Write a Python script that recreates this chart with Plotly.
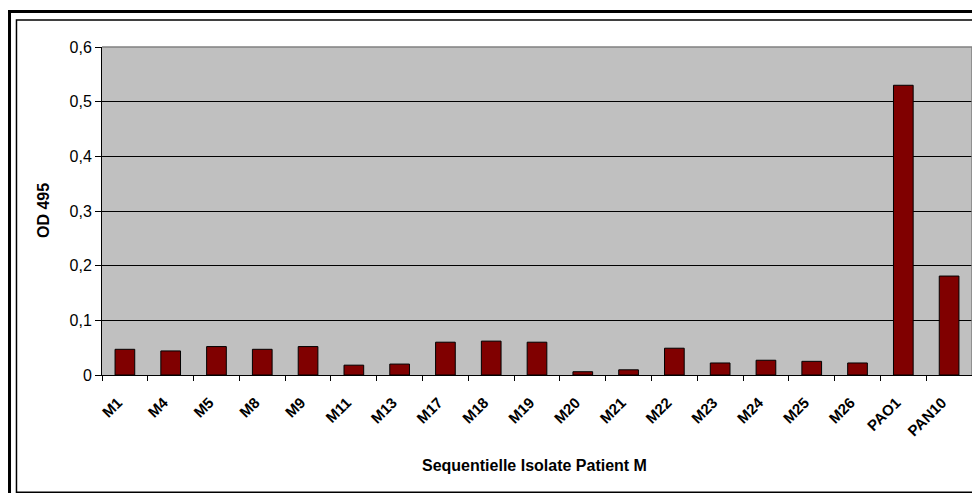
import plotly.graph_objects as go

isolates = ['M1', 'M4', 'M5', 'M8', 'M9', 'M11', 'M13', 'M17', 'M18', 'M19',
            'M20', 'M21', 'M22', 'M23', 'M24', 'M25', 'M26', 'PAO1', 'PAN10']
od_495 = [0.047, 0.044, 0.052, 0.047, 0.052, 0.018, 0.020, 0.060, 0.062, 0.060,
          0.006, 0.0095, 0.049, 0.022, 0.027, 0.025, 0.022, 0.530, 0.181]

y_tickvals = [0, 0.1, 0.2, 0.3, 0.4, 0.5, 0.6]
y_ticktext = ['0', '0,1', '0,2', '0,3', '0,4', '0,5', '0,6']

font_family = 'Liberation Sans, Arial, sans-serif'

fig = go.Figure()

fig.add_trace(go.Bar(
    x=isolates,
    y=od_495,
    marker=dict(color='#800000', line=dict(color='black', width=1)),
    showlegend=False,
    hoverinfo='x+y'
))

# chart frame (outer thick + inner thin), and the grey plot-area border
frame = [
    dict(type='rect', xref='paper', yref='paper',
         x0=-0.1063, x1=1.05, y0=-0.40, y1=1.1083,
         line=dict(color='black', width=3), fillcolor='rgba(0,0,0,0)', layer='above'),
    dict(type='rect', xref='paper', yref='paper',
         x0=-0.0983, x1=1.05, y0=-0.3575, y1=1.0823,
         line=dict(color='black', width=1.5), fillcolor='rgba(0,0,0,0)', layer='above'),
    dict(type='line', xref='paper', yref='paper',
         x0=0, x1=1, y0=1, y1=1, line=dict(color='#808080', width=1.5), layer='above'),
    dict(type='line', xref='paper', yref='paper',
         x0=1, x1=1, y0=0, y1=1, line=dict(color='#808080', width=1.5), layer='above'),
]

titles = [
    dict(text='<b>OD 495</b>', xref='paper', yref='paper', x=-0.0678, y=0.5,
         textangle=-90, showarrow=False, font=dict(size=16),
         xanchor='center', yanchor='middle'),
    dict(text='<b>Sequentielle Isolate Patient M</b>', xref='paper', yref='paper',
         x=0.497, y=-0.2774, showarrow=False, font=dict(size=16),
         xanchor='center', yanchor='middle'),
]

# page body has an 8px margin, so margins are shifted to keep the plot area in place
fig.update_layout(
    width=980,
    height=493,
    margin=dict(l=94, r=16, t=39, b=126),
    paper_bgcolor='white',
    plot_bgcolor='#C0C0C0',
    font=dict(family=font_family, color='black', size=15),
    bargap=0.57,
    shapes=frame,
    annotations=titles,
    xaxis=dict(
        type='category',
        automargin=False,
        tickangle=-45,
        tickfont=dict(size=15, family=font_family, weight='bold'),
        ticklabelstandoff=12,
        ticklabelshift=-7,
        ticks='outside',
        ticklen=5,
        tickcolor='black',
        tickson='boundaries',
        showline=True,
        linecolor='black',
        linewidth=1,
        showgrid=False,
    ),
    yaxis=dict(
        automargin=False,
        range=[0, 0.6],
        tickmode='array',
        tickvals=y_tickvals,
        ticktext=y_ticktext,
        tickfont=dict(size=16),
        ticks='outside',
        ticklen=6,
        tickcolor='black',
        showline=True,
        linecolor='black',
        linewidth=1,
        showgrid=True,
        gridcolor='black',
        gridwidth=1,
        zeroline=False,
    ),
)

fig.write_html('out.html')
